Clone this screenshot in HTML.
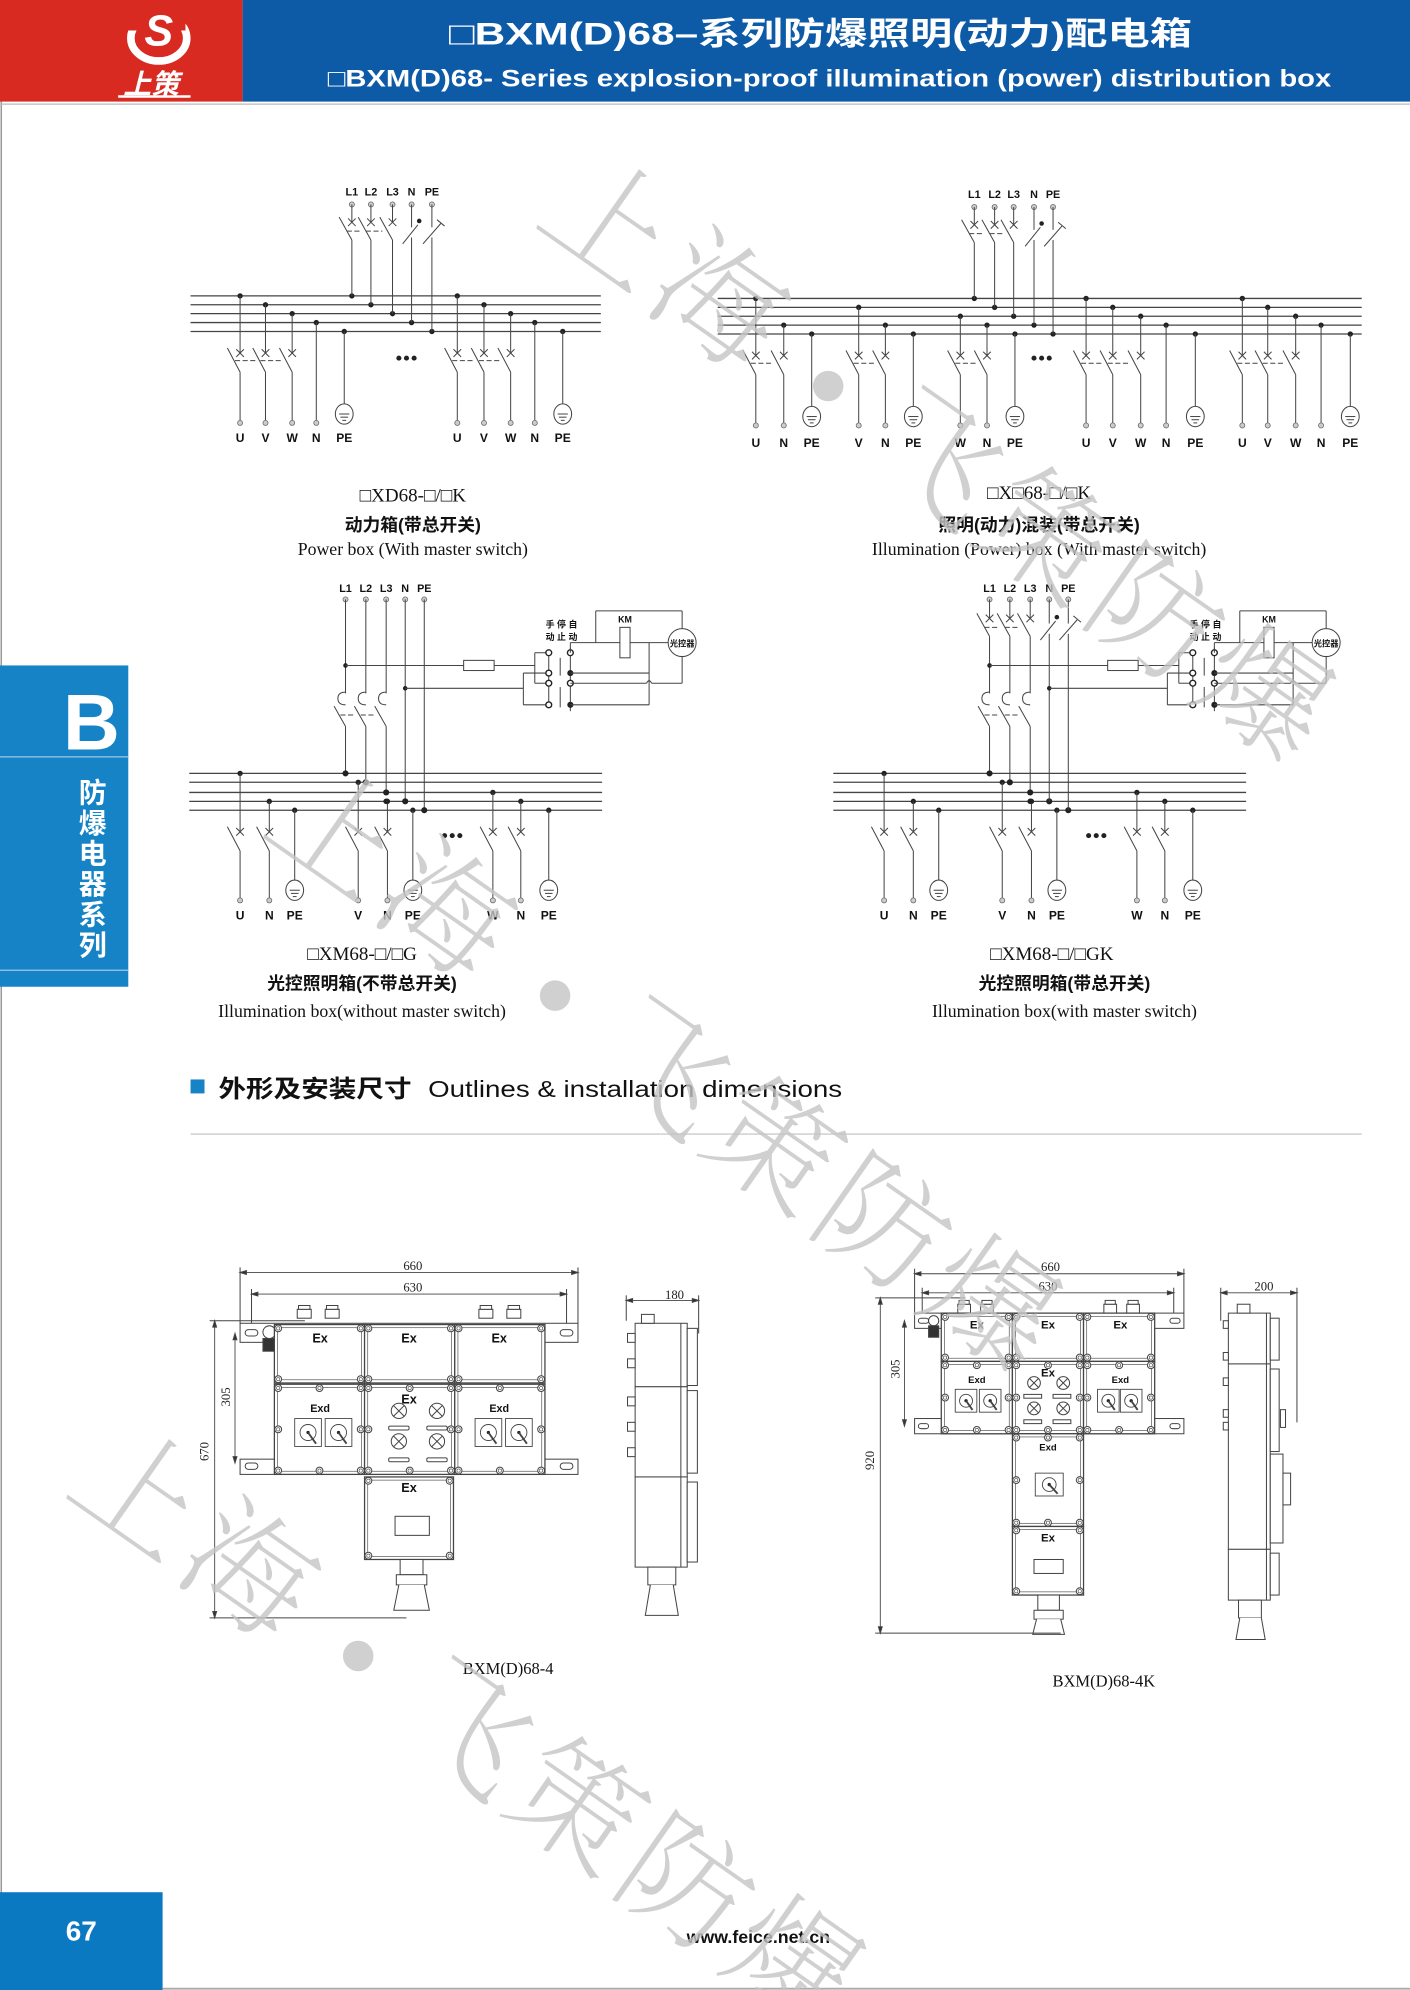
<!DOCTYPE html>
<html><head><meta charset="utf-8"><style>
html,body{margin:0;padding:0;background:#fff;width:1410px;height:1990px;overflow:hidden}
svg{display:block}
</style></head><body>
<svg id="s" xmlns="http://www.w3.org/2000/svg" width="1410" height="1990" viewBox="0 0 1110 1567" preserveAspectRatio="none">
<rect width="1110" height="1567" fill="#fff"/>
<line x1="1" y1="0" x2="1" y2="1567" stroke="#999" stroke-width="1.2"/>
<!-- header -->
<rect x="0" y="0" width="191" height="80" fill="#d82a20"/>
<rect x="191" y="0" width="919" height="80" fill="#0d5aa7"/>
<line x1="0" y1="82" x2="1110" y2="82" stroke="#bbb" stroke-width="1"/>
<ellipse cx="125" cy="30" rx="22" ry="18" fill="none" stroke="#fff" stroke-width="6"/>
<rect x="100" y="4" width="46" height="20" fill="#d82a20"/>
<text x="125" y="36" font-family="Liberation Sans, sans-serif" font-size="34" font-weight="bold" font-style="italic" fill="#fff" text-anchor="middle">S</text>
<text x="119" y="74" font-family="'Liberation Sans','Noto Sans CJK SC',sans-serif" font-size="22" font-weight="bold" font-style="italic" fill="#fff" text-anchor="middle">上策</text>
<line x1="93" y1="76" x2="150" y2="76" stroke="#fff" stroke-width="2"/>
<text x="646" y="35" font-family="'Liberation Sans','Noto Sans CJK SC',sans-serif" font-size="25" font-weight="bold" fill="#fff" text-anchor="middle" textLength="585" lengthAdjust="spacingAndGlyphs">□BXM(D)68–系列防爆照明(动力)配电箱</text>
<text x="653" y="68" font-family="'Liberation Sans',sans-serif" font-size="19" font-weight="bold" fill="#fff" text-anchor="middle" textLength="790" lengthAdjust="spacingAndGlyphs">□BXM(D)68- Series explosion-proof  illumination  (power) distribution box</text>
<!-- side tab -->
<rect x="0" y="524" width="101" height="253" fill="#1683c6"/>
<line x1="0" y1="596" x2="101" y2="596" stroke="#9cc9ea" stroke-width="1"/>
<line x1="0" y1="764" x2="101" y2="764" stroke="#9cc9ea" stroke-width="1"/>
<text x="72" y="590" font-family="'Liberation Sans',sans-serif" font-size="62" font-weight="bold" fill="#fff" text-anchor="middle">B</text>
<g font-family="'Liberation Sans','Noto Sans CJK SC',sans-serif" font-size="22" font-weight="bold" fill="#fff" text-anchor="middle">
<text x="73" y="632">防</text><text x="73" y="656">爆</text><text x="73" y="680">电</text><text x="73" y="704">器</text><text x="73" y="728">系</text><text x="73" y="752">列</text>
</g>
<!-- footer -->
<rect x="0" y="1490" width="128" height="77" fill="#0b78c2"/>
<text x="64" y="1528" font-family="'Liberation Sans',sans-serif" font-size="22" font-weight="bold" fill="#fff" text-anchor="middle">67</text>
<text x="597" y="1530" font-family="'Liberation Sans',sans-serif" font-size="14" font-weight="bold" fill="#111" text-anchor="middle">www.feice.net.cn</text>
<line x1="128" y1="1566" x2="1110" y2="1566" stroke="#aaa" stroke-width="1.5"/>

<!-- captions -->
<g font-family="'Liberation Serif','Noto Serif CJK SC',serif" fill="#111" text-anchor="middle">
<text x="325" y="395" font-size="15">□XD68-□/□K</text>
<text x="818" y="393" font-size="15">□X□68-□/□K</text>
<text x="285" y="756" font-size="15">□XM68-□/□G</text>
<text x="828" y="756" font-size="15">□XM68-□/□GK</text>
<text x="325" y="437" font-size="14">Power  box (With  master  switch)</text>
<text x="818" y="437" font-size="14">Illumination (Power)  box (With  master  switch)</text>
<text x="285" y="801" font-size="14">Illumination box(without master switch)</text>
<text x="838" y="801" font-size="14">Illumination box(with master switch)</text>
<text x="400" y="1318" font-size="13">BXM(D)68-4</text>
<text x="869" y="1328" font-size="13">BXM(D)68-4K</text>
</g>
<g font-family="'Liberation Sans','Noto Sans CJK SC',sans-serif" fill="#111" text-anchor="middle" font-weight="bold" font-size="14">
<text x="325" y="418">动力箱(带总开关)</text>
<text x="818" y="418">照明(动力)混装(带总开关)</text>
<text x="285" y="779">光控照明箱(不带总开关)</text>
<text x="838" y="779">光控照明箱(带总开关)</text>
</g>
<!-- section heading -->
<rect x="150" y="850" width="11" height="11" fill="#1683c6"/>
<text x="172" y="864" font-family="'Liberation Sans','Noto Sans CJK SC',sans-serif" font-size="19" font-weight="bold" fill="#111" textLength="152" lengthAdjust="spacingAndGlyphs">外形及安装尺寸</text>
<text x="337" y="864" font-family="'Liberation Sans',sans-serif" font-size="18" fill="#111" textLength="326" lengthAdjust="spacingAndGlyphs">Outlines &amp; installation dimensions</text>
<line x1="150" y1="893" x2="1072" y2="893" stroke="#ccc" stroke-width="1"/>

<g id="draw" stroke="#444" stroke-width="0.8" fill="none"></g>
<g id="txt"></g>

<!-- control circuit labels -->
<g font-family="'Liberation Sans','Noto Sans CJK SC',sans-serif" font-size="7" font-weight="bold" fill="#111" text-anchor="middle">
<text x="433" y="494">手</text><text x="442" y="494">停</text><text x="451" y="494">自</text>
<text x="433" y="504">动</text><text x="442" y="504">止</text><text x="451" y="504">动</text>
<text x="492" y="490">KM</text><text x="537" y="509" font-size="6.5">光控器</text>
<text x="940" y="494">手</text><text x="949" y="494">停</text><text x="958" y="494">自</text>
<text x="940" y="504">动</text><text x="949" y="504">止</text><text x="958" y="504">动</text>
<text x="999" y="490">KM</text><text x="1044" y="509" font-size="6.5">光控器</text>
</g>
<!-- outline labels -->
<g font-family="'Liberation Sans',sans-serif" font-weight="bold" fill="#111" text-anchor="middle" font-size="10">
<text x="252" y="1057">Ex</text><text x="322" y="1057">Ex</text><text x="393" y="1057">Ex</text>
<text x="252" y="1112" font-size="8.5">Exd</text><text x="322" y="1105">Ex</text><text x="393" y="1112" font-size="8.5">Exd</text>
<text x="322" y="1175">Ex</text>
<text x="769" y="1046" font-size="9">Ex</text><text x="825" y="1046" font-size="9">Ex</text><text x="882" y="1046" font-size="9">Ex</text>
<text x="769" y="1089" font-size="7.5">Exd</text><text x="825" y="1084" font-size="9">Ex</text><text x="882" y="1089" font-size="7.5">Exd</text>
<text x="825" y="1142" font-size="7.5">Exd</text><text x="825" y="1214" font-size="9">Ex</text>
</g>
<g font-family="'Liberation Serif',serif" fill="#222" text-anchor="middle" font-size="10">
<text x="325" y="1000">660</text><text x="325" y="1017">630</text><text x="531" y="1023">180</text>
<text x="164" y="1143" transform="rotate(-90 164 1143)">670</text>
<text x="181" y="1100" transform="rotate(-90 181 1100)">305</text>
<text x="827" y="1001">660</text><text x="825" y="1016">630</text><text x="995" y="1016">200</text>
<text x="688" y="1150" transform="rotate(-90 688 1150)">920</text>
<text x="708" y="1078" transform="rotate(-90 708 1078)">305</text>
</g>
<!-- watermark -->
<g id="wm" font-family="'Noto Serif CJK SC',serif" font-size="100" font-weight="200" fill="#c4c4c4" fill-opacity="0.8" text-anchor="middle"></g>
</svg>
<script>
var s='',t='';
function ln(a,b,c,d,x){s+='<line x1="'+a+'" y1="'+b+'" x2="'+c+'" y2="'+d+'" '+(x||'')+'/>';}
function dot(x,y,r){s+='<circle cx="'+x+'" cy="'+y+'" r="'+(r||2.1)+'" fill="#222" stroke="none"/>';}
function term(x,y){s+='<circle cx="'+x+'" cy="'+y+'" r="2" fill="#ccc" stroke="#666" stroke-width=".6"/>';}
function oc(x,y){s+='<circle cx="'+x+'" cy="'+y+'" r="2.3" fill="#fff" stroke="#222" stroke-width="1.1"/>';}
function tx(x,y,v,sz){t+='<text x="'+x+'" y="'+y+'" font-size="'+(sz||9.5)+'" text-anchor="middle" font-weight="bold" font-family="Liberation Sans,sans-serif" fill="#111">'+v+'</text>';}
function xm(x,y){ln(x-3,y-3,x+3,y+3);ln(x-3,y+3,x+3,y-3);}
function rc(x,y,w,h,a){s+='<rect x="'+x+'" y="'+y+'" width="'+w+'" height="'+h+'" '+(a||'')+'/>';}
function ci(x,y,r,a){s+='<circle cx="'+x+'" cy="'+y+'" r="'+r+'" '+(a||'')+'/>';}
function earth(x,cy){s+='<ellipse cx="'+x+'" cy="'+cy+'" rx="7" ry="8"/>';ln(x-4,cy,x+4,cy);ln(x-3,cy+2.5,x+3,cy+2.5);ln(x-1.5,cy+5,x+1.5,cy+5);}
function bus(o){o.bys.forEach(function(y){ln(o.bx0,y,o.bx1,y,'stroke-width="1"');});}
function outs(o){
 o.outs.forEach(function(p,i){var by=o.bys[p[2]],x=p[0];dot(x,by);
  if(p[3]=='pe'){ln(x,by,x,o.ey-8);earth(x,o.ey);}
  else if(p[3]=='b'){ln(x,by,x,o.yx);xm(x,o.yx);ln(x-10,o.yx-4,x,o.yx+15);ln(x,o.yx+15,x,o.ty);term(x,o.ty);
   var n=o.outs[i+1];if(!o.nodash&&n&&n[3]=='b'&&n[0]-x<28)ln(x-4,o.yx+6,n[0]-8,o.yx+6,'stroke-dasharray="4 2"');}
  else {ln(x,by,x,o.ty);term(x,o.ty);}
  tx(x,o.ly,p[1]);
 });
 for(var k=0;k<3;k++)dot(o.dx+k*6,o.dy,2);
}
function topBrk(o,endY){
 o.top.forEach(function(p,i){var x=p[0];term(x,o.tty);tx(x,o.tly,p[1],8.5);
  if(p[3]=='b'){ln(x,o.tty,x,o.tyx);xm(x,o.tyx);ln(x-10,o.tyx-4,x,o.tyx+14);ln(x,o.tyx+14,x,endY(p));
   var n=o.top[i+1];if(n&&n[3]=='b')ln(x-4,o.tyx+7,n[0]-8,o.tyx+7,'stroke-dasharray="4 2"');}
  else if(p[3]=='n'){ln(x,o.tty,x,o.tyx+4);ln(x-7,o.tyx+17,x+5,o.tyx+2);dot(x+6,o.tyx-1,1.8);ln(x,o.tyx+12,x,endY(p));}
  else {ln(x,o.tty,x,o.tyx+4);ln(x-7,o.tyx+17,x+7,o.tyx+1);ln(x+4,o.tyx-2,x+10,o.tyx+3);ln(x,o.tyx+12,x,endY(p));}
 });
}
var d1={bx0:150,bx1:473,bys:[233,240,247,254,261],tty:161,tyx:175,tly:154,yx:278,ty:333,ly:348,ey:326,dx:314,dy:282,
top:[[277,'L1',0,'b'],[292,'L2',1,'b'],[309,'L3',2,'b'],[324,'N',3,'n'],[340,'PE',4,'pe']],
outs:[[189,'U',0,'b'],[209,'V',1,'b'],[230,'W',2,'b'],[249,'N',3,'n'],[271,'PE',4,'pe'],[360,'U',0,'b'],[381,'V',1,'b'],[402,'W',2,'b'],[421,'N',3,'n'],[443,'PE',4,'pe']]};
bus(d1);outs(d1);topBrk(d1,function(p){dot(p[0],d1.bys[p[2]]);return d1.bys[p[2]];});
var d2={bx0:565,bx1:1072,bys:[235,242,249,256,263],tty:163,tyx:177,tly:156,yx:280,ty:335,ly:352,ey:328,dx:814,dy:282,
top:[[767,'L1',0,'b'],[783,'L2',1,'b'],[798,'L3',2,'b'],[814,'N',3,'n'],[829,'PE',4,'pe']],
outs:[[595,'U',0,'b'],[617,'N',3,'b'],[639,'PE',4,'pe'],[676,'V',1,'b'],[697,'N',3,'b'],[719,'PE',4,'pe'],[756,'W',2,'b'],[777,'N',3,'b'],[799,'PE',4,'pe'],
[855,'U',0,'b'],[876,'V',1,'b'],[898,'W',2,'b'],[918,'N',3,'n'],[941,'PE',4,'pe'],[978,'U',0,'b'],[998,'V',1,'b'],[1020,'W',2,'b'],[1040,'N',3,'n'],[1063,'PE',4,'pe']]};
bus(d2);outs(d2);topBrk(d2,function(p){dot(p[0],d2.bys[p[2]]);return d2.bys[p[2]];});
function d34(dx,master){
 var o={bx0:149+dx,bx1:474+dx,bys:[609,616,624,631,638],tty:472,tyx:487,tly:466,yx:655,ty:709,ly:724,ey:701,dx:350+dx,dy:658,nodash:true,
 top:[[272+dx,'L1',0,'b'],[288+dx,'L2',1,'b'],[304+dx,'L3',2,'b'],[319+dx,'N',3,'n'],[334+dx,'PE',4,'pe']],
 outs:[[189+dx,'U',0,'b'],[212+dx,'N',3,'b'],[232+dx,'PE',4,'pe'],[282+dx,'V',1,'b'],[305+dx,'N',3,'b'],[325+dx,'PE',4,'pe'],[388+dx,'W',2,'b'],[410+dx,'N',3,'b'],[432+dx,'PE',4,'pe']]};
 bus(o);outs(o);
 o.top.forEach(function(p,i){var x=p[0],by=o.bys[p[2]];
  if(!master){term(x,o.tty);tx(x,o.tly,p[1],8.5);}
  if(i<3){var st=master?o.tyx+14:o.tty;ln(x,st,x,546);s+='<path d="M'+x+' 545 q-6 0 -6 5 q0 5 6 5"/>';
   ln(x-9,556,x,572);ln(x,572,x,by);dot(x,by,2.4);if(i<2)ln(x-4,563,o.top[i+1][0]-8,563,'stroke-dasharray="4 2"');}
  else if(!master){ln(x,o.tty,x,by);dot(x,by,2.4);}
 });
 if(master)topBrk(o,function(p){return p[2]<3?o.tyx+14:(dot(p[0],o.bys[p[2]],2.4),o.bys[p[2]]);});
 dot(304+dx,631,2.2);
 var L1=272+dx,N=319+dx,a=432+dx,b=449+dx,m=441+dx;
 dot(L1,524,1.8);ln(L1,524,365+dx,524);rc(365+dx,520,24,8,'fill="#fff"');ln(389+dx,524,421+dx,524);
 ln(421+dx,514,421+dx,538);ln(421+dx,514,a,514);ln(421+dx,538,a,538);
 dot(N,542,1.8);ln(N,542,412+dx,542);ln(412+dx,530,412+dx,555);ln(412+dx,530,a,530);ln(412+dx,555,a,555);
 ln(a,514,a,555);ln(m,518,m,532);ln(m,541,m,557);ln(b,510,b,560);
 [514,530,538,555].forEach(function(y){oc(a,y);});
 oc(b,514);dot(b,530,2.4);oc(b,538);dot(b,555,2.4);
 ln(b,506,b,514);ln(b,506,527+dx,506);ln(469+dx,506,469+dx,481);ln(469+dx,481,537+dx,481);ln(537+dx,481,537+dx,495);
 rc(488+dx,494,8,24,'fill="#fff"');ci(537+dx,506,11,'fill="#fff"');
 ln(b,530,511+dx,530);ln(511+dx,506,511+dx,555);ln(b,555,511+dx,555);
 ln(b,538,509+dx,538);s+='<path d="M'+(509+dx)+' 538 q2 -4 4 0"/>';ln(513+dx,538,537+dx,538);ln(537+dx,538,537+dx,517);
}
d34(0,false);d34(507,true);
function bolt(x,y){ci(x,y,2.7,'fill="#fff" stroke-width=".8"');ci(x,y,1.3,'stroke-width=".5"');}
function box(x,y,w,h,mid){rc(x,y,w,h,'fill="#fff" stroke-width="1"');rc(x+2.5,y+2.5,w-5,h-5,'stroke-width=".5"');
 bolt(x+3,y+3);bolt(x+w-3,y+3);bolt(x+3,y+h-3);bolt(x+w-3,y+h-3);
 if(mid){bolt(x+3,y+h/2);bolt(x+w-3,y+h/2);bolt(x+w/2,y+3);bolt(x+w/2,y+h-3);}}
function arrH(x1,x2,y){ln(x1,y,x2,y,'stroke-width=".7"');s+='<path d="M'+x1+' '+y+' l5 -1.5 v3z M'+x2+' '+y+' l-5 -1.5 v3z" fill="#333"/>';}
function arrV(x,y1,y2){ln(x,y1,x,y2,'stroke-width=".7"');s+='<path d="M'+x+' '+y1+' l-1.5 5 h3z M'+x+' '+y2+' l-1.5 -5 h3z" fill="#333"/>';}
function sw(x,y,w,h){rc(x,y,w,h,'fill="#fff" stroke-width=".7"');var cx=x+w/2,cy=y+h/2;ci(cx,cy,Math.min(w,h)*0.3,'stroke-width=".7"');dot(cx,cy,1.3);ln(cx,cy,cx+w*0.3,cy+h*0.4,'stroke-width="1.5"');}
function lamp(x,y,r){ci(x,y,r,'fill="#fff"');ln(x-r*.7,y-r*.7,x+r*.7,y+r*.7);ln(x-r*.7,y+r*.7,x+r*.7,y-r*.7);}
function gland(x,y,w){rc(x,y,w,7,'fill="#fff"');rc(x+1,y-3,w-2,3,'fill="#fff"');}
arrH(189,455,1002);arrH(198,446,1019);ln(189,998,189,1042);ln(455,998,455,1042);ln(198,1015,198,1050);ln(446,1015,446,1050);
[234,256,377,399].forEach(function(x){gland(x,1031,11);});
rc(189,1042,266,15,'fill="#fff"');rc(189,1149,266,12,'fill="#fff"');
rc(193,1047,10,5,'rx="2.5"');rc(441,1047,10,5,'rx="2.5"');rc(193,1152,10,5,'rx="2.5"');rc(441,1152,10,5,'rx="2.5"');
ci(212,1049,5,'fill="#fff"');rc(207,1054,9,10,'fill="#333"');
[216,287,358].forEach(function(x){box(x,1043,71,46,false);box(x,1090,71,71,true);});
box(287,1163,70,65,false);rc(311,1194,27,15,'fill="#fff"');
sw(232,1117,21,22);sw(256,1117,21,22);sw(374,1117,21,22);sw(398,1117,21,22);
lamp(314,1111,6);lamp(344,1111,6);lamp(314,1135,6);lamp(344,1135,6);
rc(306,1123,16,3,'rx="1"');rc(336,1123,16,3,'rx="1"');rc(306,1148,16,3,'rx="1"');rc(336,1148,16,3,'rx="1"');
rc(315,1228,18,12,'fill="#fff"');rc(312,1240,24,8,'fill="#fff"');s+='<path d="M314 1248 L310 1268 H338 L334 1248" fill="#fff"/>';
arrV(169,1040,1274);ln(165,1040,240,1040);ln(165,1274,320,1274);arrV(185,1050,1152);
arrH(493,550,1024);ln(493,1020,493,1040);ln(550,1020,550,1050);
rc(500,1042,41,50,'fill="#fff"');rc(500,1092,41,71,'fill="#fff"');rc(500,1163,41,71,'fill="#fff"');
rc(541,1046,8,45,'fill="#fff"');rc(541,1095,8,65,'fill="#fff"');rc(541,1167,8,63,'fill="#fff"');
ln(536,1042,536,1234);rc(505,1035,10,7,'fill="#fff"');
[1050,1070,1100,1120,1140].forEach(function(y){rc(494,y,6,7,'fill="#fff"');});
rc(510,1234,22,14,'fill="#fff"');s+='<path d="M512 1248 L508 1272 H534 L530 1248" fill="#fff"/>';
arrH(720,932,1003);arrH(726,924,1018);ln(720,999,720,1034);ln(932,999,932,1034);ln(726,1014,726,1040);ln(924,1014,924,1040);
[754,772,869,887].forEach(function(x){gland(x,1027,10);});
rc(720,1034,212,12,'fill="#fff"');rc(720,1117,212,12,'fill="#fff"');
rc(723,1038,8,4,'rx="2"');rc(921,1038,8,4,'rx="2"');rc(723,1121,8,4,'rx="2"');rc(921,1121,8,4,'rx="2"');
ci(735,1040,4,'fill="#fff"');rc(731,1044,8,9,'fill="#333"');
[741,797,853].forEach(function(x){box(x,1034,56,38,false);box(x,1072,56,57,true);});
box(797,1129,56,73,true);box(797,1202,56,54,false);
sw(752,1094,17,18);sw(771,1094,17,18);sw(864,1094,17,18);sw(882,1094,17,18);
lamp(814,1089,5);lamp(837,1089,5);lamp(814,1109,5);lamp(837,1109,5);
rc(806,1098,14,3);rc(829,1098,14,3);rc(806,1118,14,3);rc(829,1118,14,3);
sw(815,1160,22,18);rc(814,1228,23,11,'fill="#fff"');
rc(817,1256,17,12,'fill="#fff"');rc(814,1268,23,7,'fill="#fff"');s+='<path d="M816 1275 L813 1287 H838 L835 1275" fill="#fff"/>';
arrV(693,1022,1286);ln(689,1022,760,1022);ln(689,1286,835,1286);arrV(712,1040,1123);
arrH(961,1021,1018);ln(961,1014,961,1040);ln(1021,1014,1021,1120);
rc(967,1034,33,40,'fill="#fff"');rc(967,1074,33,146,'fill="#fff"');rc(967,1220,33,40,'fill="#fff"');
rc(1000,1038,7,33,'fill="#fff"');rc(1000,1078,7,65,'fill="#fff"');rc(1000,1145,10,70,'fill="#fff"');rc(1000,1223,7,33,'fill="#fff"');
rc(1010,1160,6,25,'fill="#fff"');rc(1008,1110,4,14,'fill="#fff"');ln(997,1034,997,1260);
rc(974,1027,10,7,'fill="#fff"');
[1040,1065,1085,1110,1120].forEach(function(y){rc(963,y,4,6,'fill="#fff"');});
rc(975,1260,18,14,'fill="#fff"');s+='<path d="M976 1274 L973 1291 H996 L993 1274" fill="#fff"/>';
document.getElementById('draw').innerHTML=s;
document.getElementById('txt').innerHTML=t;
var w='',chars=['上','海','●','飞','策','防','爆'];
function wm(x0,y0){for(var i=0;i<7;i++){var x=x0+i*86,y=y0+i*62;
 if(i==2)w+='<circle cx="'+x+'" cy="'+(y-30)+'" r="12"/>';
 else w+='<text x="'+x+'" y="'+y+'" transform="rotate(35 '+x+' '+(y-35)+')">'+chars[i]+'</text>';}}
wm(480,210);wm(265,690);wm(110,1210);
document.getElementById('wm').innerHTML=w;
</script>
</body></html>
